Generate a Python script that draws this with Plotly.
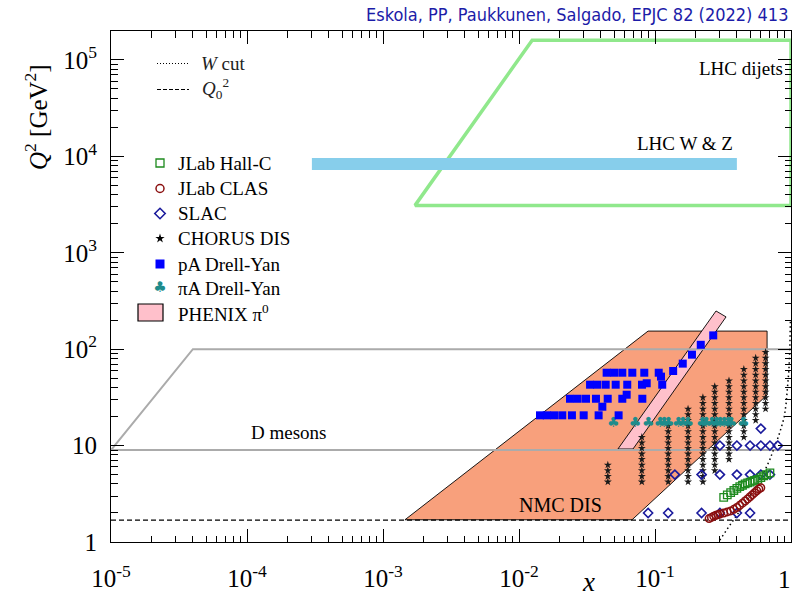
import numpy as np
import plotly.graph_objects as go

# ---------------- data ----------------
x_major = [1e-5, 1e-4, 1e-3, 1e-2, 1e-1, 1]
x_major_text = ['10<sup>-5</sup>', '10<sup>-4</sup>', '10<sup>-3</sup>', '10<sup>-2</sup>', '10<sup>-1</sup>', '1']
y_major = [1, 10, 100, 1e3, 1e4, 1e5]
y_major_text = ['1', '10', '10<sup>2</sup>', '10<sup>3</sup>', '10<sup>4</sup>', '10<sup>5</sup>']

# kinematic regions
nmc_x = [1.45e-3, 0.0889, 0.667, 0.667, 0.0678, 1.45e-3]
nmc_q2 = [1.7, 154, 154, 33.5, 1.7, 1.7]
phenix_x = [0.0534, 0.0689, 0.333, 0.281, 0.0534]
phenix_q2 = [9.22, 9.22, 216, 249, 9.22]
dmes_x = [1.0, 4.0e-5, 1.0e-5, 1.0]
dmes_q2 = [100, 100, 9.0, 9.0]
dijet_x = [1.0, 0.0125, 1.72e-3, 1.0, 1.0]
dijet_q2 = [1.6e5, 1.6e5, 3100, 3100, 1.6e5]
wz_x = [3.0e-4, 0.4, 0.4, 3.0e-4, 3.0e-4]
wz_q2 = [7230, 7230, 9620, 9620, 7230]
q0_x = [1e-5, 1.0]
q0_q2 = [1.69, 1.69]
wcut_x = [0.29, 0.30, 0.35, 0.42, 0.50, 0.56, 0.63, 0.70, 0.76, 0.81, 0.85, 0.89, 0.92, 0.945, 0.965, 0.98, 0.99]
wcut_q2 = [0.95, 1.05, 1.45, 2.1, 3.0, 3.9, 5.2, 7.2, 9.6, 12.5, 15.5, 19.5, 27, 40, 60, 100, 200]

# JLab Hall-C
hallc_x = [0.32, 0.34, 0.36, 0.38, 0.40, 0.42, 0.44, 0.46, 0.48, 0.50, 0.52, 0.54, 0.57, 0.60, 0.63, 0.66, 0.70]
hallc_q2 = [2.9, 3.08, 3.25, 3.42, 3.6, 3.76, 3.88, 4.0, 4.1, 4.18, 4.27, 4.35, 4.47, 4.65, 4.85, 5.0, 5.2]
# JLab CLAS
clas_x = [0.25, 0.26, 0.27, 0.28, 0.29, 0.30, 0.32, 0.34, 0.36, 0.38, 0.40, 0.42, 0.44, 0.46, 0.48, 0.50, 0.52, 0.54, 0.56, 0.58, 0.60]
clas_q2 = [1.75, 1.80, 1.85, 1.89, 1.92, 1.95, 2.0, 2.05, 2.1, 2.18, 2.28, 2.4, 2.53, 2.66, 2.8, 2.95, 3.1, 3.25, 3.4, 3.55, 3.65]
# SLAC
slac_x = [0.089, 0.125, 0.22, 0.30, 0.40, 0.50,
          0.14, 0.22, 0.30, 0.40, 0.50, 0.60, 0.70,
          0.30, 0.40, 0.50, 0.60, 0.70, 0.80,
          0.60]
slac_q2 = [2, 2, 2, 2, 2, 2,
           5, 5, 5, 5, 5, 5, 5,
           10, 10, 10, 10, 10, 10,
           15]
# CHORUS DIS: x columns, Q2 bins and per-column Q2 coverage
chorus_xcols = [0.045, 0.08, 0.125, 0.175, 0.225, 0.275, 0.35, 0.45, 0.55, 0.65]
chorus_q2_bins = [4.2, 4.8, 5.5, 6.3, 7.2, 8.2, 9.4, 10.7, 12.2, 14.0, 16.0, 18.3, 21.0, 24.0,
                  27.5, 31.5, 36, 41, 47, 54, 62, 71, 81, 93]
chorus_q2_min = [4.1, 4.1, 4.1, 4.1, 4.1, 4.9, 6.7, 11.4, 16.4, 21.9]
chorus_q2_max = [6.9, 12.4, 16.1, 26.7, 34.7, 42, 53.5, 70, 84, 97]
# pA Drell-Yan
pady_x = [0.0441, 0.050, 0.0575, 0.0681, 0.0834, 0.1065, 0.1107,
          0.0333, 0.0376, 0.0434, 0.0514, 0.0625, 0.0802, 0.0869, 0.113,
          0.0237, 0.0270, 0.0311, 0.0368, 0.0449, 0.0575, 0.0807, 0.0619,
          0.041,
          0.01427, 0.0160, 0.0181, 0.0208, 0.0245, 0.0299, 0.0385, 0.054,
          0.136, 0.160, 0.187, 0.217, 0.268]
pady_q2 = [57.0, 57.0, 57.0, 57.0, 57.0, 57.0, 51.9,
           42.8, 42.8, 42.8, 42.8, 42.8, 42.8, 44.3, 42.8,
           30.6, 30.6, 30.6, 30.6, 30.6, 30.6, 30.6, 33.7,
           25.3,
           20.6, 20.6, 20.6, 20.6, 20.6, 20.6, 20.6, 20.6,
           59.4, 70.8, 87.7, 111, 139]
# piA Drell-Yan
piady_x = [0.0493, 0.0713, 0.0893, 0.1088, 0.1165, 0.1253, 0.1484, 0.160, 0.174,
           0.223, 0.237, 0.262, 0.284, 0.301, 0.322, 0.344, 0.362, 0.446]
piady_q2 = [17.0] * 18

# ---------------- figure ----------------
W, H = 794, 596
L, R, T, B = 111, 3, 31, 54
SERIF = 'Liberation Serif, Times New Roman, serif'

fig = go.Figure()


def poly(x, y, fillcolor=None, line_color='black', width=1, dash='solid'):
    fig.add_trace(go.Scatter(
        x=x, y=y, mode='lines',
        fill='toself' if fillcolor else None,
        fillcolor=fillcolor,
        line=dict(color=line_color, width=width, dash=dash),
        hoverinfo='skip', showlegend=False))


poly(nmc_x, nmc_q2, fillcolor='#F8A07C', line_color='black', width=0.9)
poly(phenix_x, phenix_q2, fillcolor='#FFC0CB', line_color='black', width=0.9)
poly(dmes_x, dmes_q2, line_color='#ABABAB', width=2)
poly(q0_x, q0_q2, line_color='black', width=1.2, dash='5px,3px')
poly(dijet_x, dijet_q2, line_color='#90E88C', width=3.5)
poly(wz_x, wz_q2, fillcolor='#87CEEB', line_color='rgba(0,0,0,0)', width=0)
poly(wcut_x, wcut_q2, line_color='black', width=1.5, dash='1.5px,3px')

# CHORUS points
ch_x, ch_y = [], []
for xc, lo, hi in zip(chorus_xcols, chorus_q2_min, chorus_q2_max):
    for q in chorus_q2_bins:
        if lo <= q <= hi:
            ch_x.append(xc)
            ch_y.append(q)
fig.add_trace(go.Scatter(x=ch_x, y=ch_y, mode='markers',
                         marker=dict(symbol='star', size=6, color='#1A1A1A',
                                     line=dict(width=0)),
                         showlegend=False, hoverinfo='skip'))
fig.add_trace(go.Scatter(x=piady_x, y=piady_q2, mode='text', text=['♣'] * len(piady_x),
                         textfont=dict(color='#1E8C8C', size=14, family='DejaVu Sans'),
                         showlegend=False, hoverinfo='skip'))
fig.add_trace(go.Scatter(x=pady_x, y=pady_q2, mode='markers',
                         marker=dict(symbol='square', size=8, color='#0000FF', line=dict(width=0)),
                         showlegend=False, hoverinfo='skip'))
fig.add_trace(go.Scatter(x=slac_x, y=slac_q2, mode='markers',
                         marker=dict(symbol='diamond-open', size=7, color='#1A1A9C',
                                     line=dict(width=1.6, color='#1A1A9C')),
                         showlegend=False, hoverinfo='skip'))
fig.add_trace(go.Scatter(x=hallc_x, y=hallc_q2, mode='markers',
                         marker=dict(symbol='square-open', size=7.5, color='#1E8A1E',
                                     line=dict(width=1.3, color='#1E8A1E')),
                         showlegend=False, hoverinfo='skip'))
fig.add_trace(go.Scatter(x=clas_x, y=clas_q2, mode='markers',
                         marker=dict(symbol='circle-open', size=7.5, color='#8B1010',
                                     line=dict(width=1.5, color='#8B1010')),
                         showlegend=False, hoverinfo='skip'))

# ---------------- manual legend (overlay axes in plot-area fractions) ----------------
PW, PH = W - L - R, H - T - B


def px(xpix):
    return (xpix - L) / PW


def py(ypix):
    return (H - B - ypix) / PH


leg_rows = [163, 188.5, 213.5, 238.5, 264, 288.5]
leg_sym_x = px(160)
leg_specs = [
    dict(symbol='square-open', size=8, color='#1E8A1E', line=dict(width=1.3, color='#1E8A1E')),
    dict(symbol='circle-open', size=8, color='#8B1010', line=dict(width=1.5, color='#8B1010')),
    dict(symbol='diamond-open', size=8, color='#1A1A9C', line=dict(width=1.6, color='#1A1A9C')),
    dict(symbol='star', size=7, color='black', line=dict(width=0)),
    dict(symbol='square', size=9, color='#0000FF', line=dict(width=0)),
]
for r, spec in zip(leg_rows[:5], leg_specs):
    fig.add_trace(go.Scatter(x=[leg_sym_x], y=[py(r)], mode='markers', marker=spec,
                             xaxis='x2', yaxis='y2', showlegend=False, hoverinfo='skip'))
fig.add_trace(go.Scatter(x=[leg_sym_x], y=[py(leg_rows[5])], mode='text', text=['♣'],
                         textfont=dict(color='#1E8C8C', size=15, family='DejaVu Sans'),
                         xaxis='x2', yaxis='y2', showlegend=False, hoverinfo='skip'))

leg_labels = ['JLab Hall-C', 'JLab CLAS', 'SLAC', 'CHORUS DIS', 'pA Drell-Yan', 'πA Drell-Yan']
annotations = []
for r, lab in zip(leg_rows, leg_labels):
    annotations.append(dict(x=px(176), y=py(r), xref='paper', yref='paper', text=lab,
                            showarrow=False, xanchor='left', yanchor='middle',
                            font=dict(family=SERIF, size=19, color='black')))
annotations.append(dict(x=px(176), y=py(313), xref='paper', yref='paper', text='PHENIX π<sup>0</sup>',
                        showarrow=False, xanchor='left', yanchor='middle',
                        font=dict(family=SERIF, size=19, color='black')))

shapes = [
    dict(type='rect', xref='paper', yref='paper', x0=px(138), x1=px(163), y0=py(321), y1=py(304),
         fillcolor='#FFC0CB', line=dict(color='black', width=1.2)),
    dict(type='line', xref='paper', yref='paper', x0=px(157), x1=px(189), y0=py(63.5), y1=py(63.5),
         line=dict(color='black', width=1.1, dash='1px,2px')),
    dict(type='line', xref='paper', yref='paper', x0=px(157), x1=px(189), y0=py(89.5), y1=py(89.5),
         line=dict(color='black', width=1.1, dash='4px,2px')),
]
annotations += [
    dict(x=px(199), y=py(63), xref='paper', yref='paper', text='<i>W</i> cut', showarrow=False,
         xanchor='left', yanchor='middle', font=dict(family=SERIF, size=19, color='#222')),
    dict(x=px(200), y=py(88), xref='paper', yref='paper', text='<i>Q</i><sub>0</sub><sup>2</sup>',
         showarrow=False, xanchor='left', yanchor='middle', font=dict(family=SERIF, size=19, color='#222')),
    dict(x=px(785), y=py(68), xref='paper', yref='paper', text='LHC dijets', showarrow=False,
         xanchor='right', yanchor='middle', font=dict(family=SERIF, size=19, color='black')),
    dict(x=px(735), y=py(143), xref='paper', yref='paper', text='LHC W &amp; Z', showarrow=False,
         xanchor='right', yanchor='middle', font=dict(family=SERIF, size=19, color='black')),
    dict(x=px(288), y=py(432), xref='paper', yref='paper', text='D mesons', showarrow=False,
         xanchor='center', yanchor='middle', font=dict(family=SERIF, size=19, color='black')),
    dict(x=px(560), y=py(505), xref='paper', yref='paper', text='NMC DIS', showarrow=False,
         xanchor='center', yanchor='middle', font=dict(family=SERIF, size=20, color='black')),
    dict(x=px(790), y=py(14), xref='paper', yref='paper',
         text='Eskola, PP, Paukkunen, Salgado, EPJC 82 (2022) 413', showarrow=False,
         xanchor='right', yanchor='middle',
         font=dict(family='Liberation Sans Narrow, DejaVu Sans Condensed, Arial Narrow, sans-serif',
                   size=18, color='#1C1CA8')),
    dict(x=px(36), y=py(117), xref='paper', yref='paper',
         text='<i>Q</i><sup>2</sup> [GeV<sup>2</sup>]', showarrow=False, textangle=-90,
         xanchor='center', yanchor='middle', font=dict(family=SERIF, size=25, color='black')),
    dict(x=px(588), y=py(582), xref='paper', yref='paper', text='<i>x</i>', showarrow=False,
         xanchor='center', yanchor='middle', font=dict(family=SERIF, size=27, color='black')),
    # last x tick label, kept fully inside the page
    dict(x=px(793), y=py(579), xref='paper', yref='paper', text=x_major_text[-1], showarrow=False,
         xanchor='right', yanchor='middle', font=dict(family=SERIF, size=25, color='black')),
]
x_tick_text_drawn = x_major_text[:-1] + ['']

minor_x = [m * 10.0 ** k for k in range(-5, 0) for m in range(2, 10)]
minor_y = [m * 10.0 ** k for k in range(0, 6) for m in range(2, 10)]

axis_common = dict(showline=True, linecolor='black', linewidth=1, mirror='allticks',
                   ticks='inside', ticklen=13, tickcolor='black', tickwidth=1,
                   showgrid=False, zeroline=False, ticklabeloverflow='allow', automargin=False,
                   tickfont=dict(family=SERIF, size=25, color='black'))

fig.update_layout(
    width=W, height=H,
    margin=dict(l=L, r=R, t=T, b=B, pad=0, autoexpand=False),
    paper_bgcolor='white', plot_bgcolor='white',
    showlegend=False,
    xaxis=dict(type='log', range=[-5, 0], tickmode='array', tickvals=x_major, ticktext=x_tick_text_drawn,
               ticklabelstandoff=14,
               minor=dict(tickmode='array', tickvals=minor_x, ticks='inside', ticklen=6.5,
                          tickcolor='black', tickwidth=1, showgrid=False),
               **axis_common),
    yaxis=dict(type='log', range=[0, 5.3], tickmode='array', tickvals=y_major, ticktext=y_major_text,
               ticklabelstandoff=8,
               minor=dict(tickmode='array', tickvals=minor_y, ticks='inside', ticklen=6.5,
                          tickcolor='black', tickwidth=1, showgrid=False),
               **axis_common),
    xaxis2=dict(overlaying='x', range=[0, 1], visible=False, fixedrange=True),
    yaxis2=dict(overlaying='y', range=[0, 1], visible=False, fixedrange=True),
    shapes=shapes,
    annotations=annotations,
)

fig.write_html('out.html')
